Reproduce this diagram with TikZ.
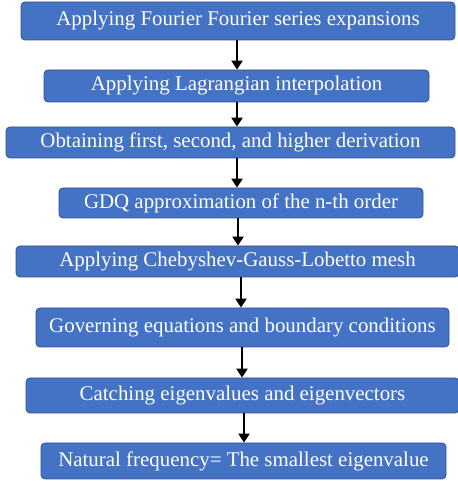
\documentclass[tikz,border=0pt]{standalone}
\usepackage{fontspec}
\setmainfont{Liberation Serif}
\usetikzlibrary{arrows.meta}
\definecolor{boxfill}{HTML}{4472C4}
\definecolor{boxline}{HTML}{2F528F}
\begin{document}
\begin{tikzpicture}[x=1pt,y=1pt,
  box/.style={draw=boxline, line width=0.8pt, fill=boxfill, rounded corners=4pt,
    text=white, inner sep=0pt, font=\fontsize{20.9}{24}\selectfont},
  arr/.style={line width=2.6pt, -{Triangle[width=11pt,length=9pt]}}]
\useasboundingbox (0,0) rectangle (457,481);
\node[box, minimum width=434, minimum height=38] (b1) at (238,460) {Applying Fourier Fourier series expansions};
\node[box, minimum width=385, minimum height=32] (b2) at (236.5,395) {Applying Lagrangian interpolation};
\node[box, minimum width=449, minimum height=31] (b3) at (230.5,338.5) {Obtaining first, second, and higher derivation};
\node[box, minimum width=364, minimum height=30] (b4) at (241,278) {GDQ approximation of the n-th order};
\node[box, minimum width=443, minimum height=31] (b5) at (237.5,219.5) {Applying Chebyshev-Gauss-Lobetto mesh};
\node[box, minimum width=413, minimum height=39] (b6) at (242.5,153.5) {Governing equations and boundary conditions};
\node[box, minimum width=433, minimum height=35] (b7) at (242.5,85.5) {Catching eigenvalues and eigenvectors};
\node[box, minimum width=405, minimum height=36] (b8) at (243.5,20) {Natural frequency= The smallest eigenvalue};
\coordinate (x1) at (237,0);
\coordinate (x2) at (237,0);
\coordinate (x3) at (237,0);
\coordinate (x4) at (238,0);
\coordinate (x5) at (241,0);
\coordinate (x6) at (242,0);
\coordinate (x7) at (244,0);
\draw[arr] (b1.south -| x1) -- (b2.north -| x1);
\draw[arr] (b2.south -| x2) -- (b3.north -| x2);
\draw[arr] (b3.south -| x3) -- (b4.north -| x3);
\draw[arr] (b4.south -| x4) -- (b5.north -| x4);
\draw[arr] (b5.south -| x5) -- (b6.north -| x5);
\draw[arr] (b6.south -| x6) -- (b7.north -| x6);
\draw[arr] (b7.south -| x7) -- (b8.north -| x7);
\end{tikzpicture}
\end{document}
